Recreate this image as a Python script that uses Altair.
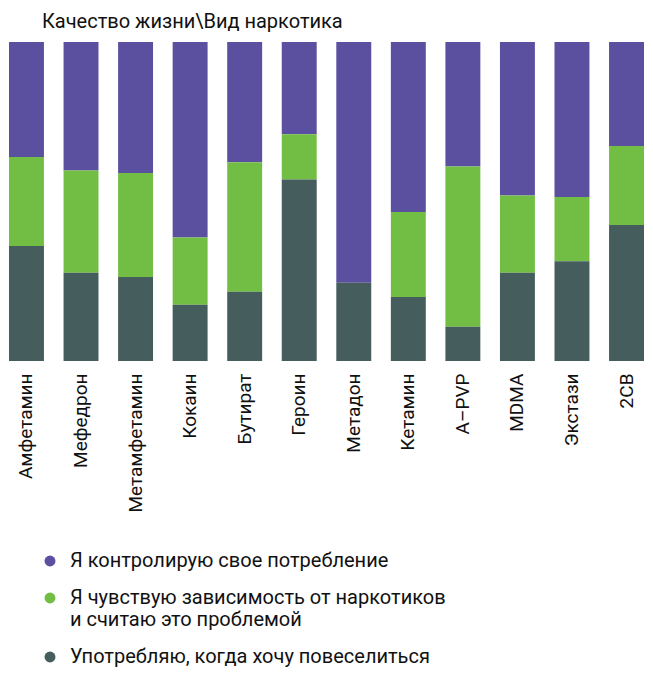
import altair as alt
import pandas as pd

drugs = ["Амфетамин", "Мефедрон", "Метамфетамин", "Кокаин", "Бутират", "Героин",
         "Метадон", "Кетамин", "A–PVP", "MDMA", "Экстази", "2CB"]
control = [36.1, 40.3, 41.1, 61.3, 37.7, 28.9, 75.5, 53.3, 39.0, 48.1, 48.6, 32.6]
addicted = [27.9, 32.1, 32.6, 21.1, 40.6, 14.2, 0.0, 26.6, 50.3, 24.2, 20.1, 24.8]
fun = [36.1, 27.7, 26.3, 17.6, 21.7, 56.9, 24.5, 20.1, 10.7, 27.7, 31.3, 42.6]

cats = ["Я контролирую свое потребление",
        "Я чувствую зависимость от наркотиков|и считаю это проблемой",
        "Употребляю, когда хочу повеселиться"]
colors = ["#5B4FA0", "#72BE44", "#465D5E"]
stack_order = [2, 1, 0]

rows = []
for i, d in enumerate(drugs):
    for c, vals, o in zip(cats, [control, addicted, fun], stack_order):
        rows.append({"drug": d, "cat": c, "value": vals[i], "ord": o})
df = pd.DataFrame(rows)

FONT = "Roboto"

chart = alt.Chart(df).mark_bar().encode(
    x=alt.X("drug:N", sort=drugs, title=None,
            scale=alt.Scale(paddingInner=0.3594, paddingOuter=0.0183),
            axis=alt.Axis(labelAngle=-90, labelPadding=12, ticks=False, domain=False,
                          labelFontSize=19, labelColor="#111", labelFont=FONT)),
    y=alt.Y("value:Q", stack="normalize", axis=None),
    color=alt.Color("cat:N", scale=alt.Scale(domain=cats, range=colors),
                    legend=alt.Legend(title=None, orient="none", legendX=32, legendY=509,
                                      direction="vertical",
                                      labelExpr="split(datum.label, '|')",
                                      labelFontSize=20, labelFont=FONT, labelColor="#111",
                                      labelLimit=600, symbolType="circle", symbolSize=120,
                                      rowPadding=17, labelOffset=10)),
    order=alt.Order("ord:Q"),
).properties(
    width=637, height=319,
    title=alt.TitleParams("Качество жизни\\Вид наркотика", anchor="start", dx=34,
                          fontSize=20, font=FONT, fontWeight="normal", color="#111",
                          offset=10),
    padding={"left": 0, "right": 0, "top": 34, "bottom": 311},
    autosize=alt.AutoSizeParams(type="none"),
).configure_view(stroke=None)

chart.save("out.html", embed_options={"renderer": "svg", "actions": False})
